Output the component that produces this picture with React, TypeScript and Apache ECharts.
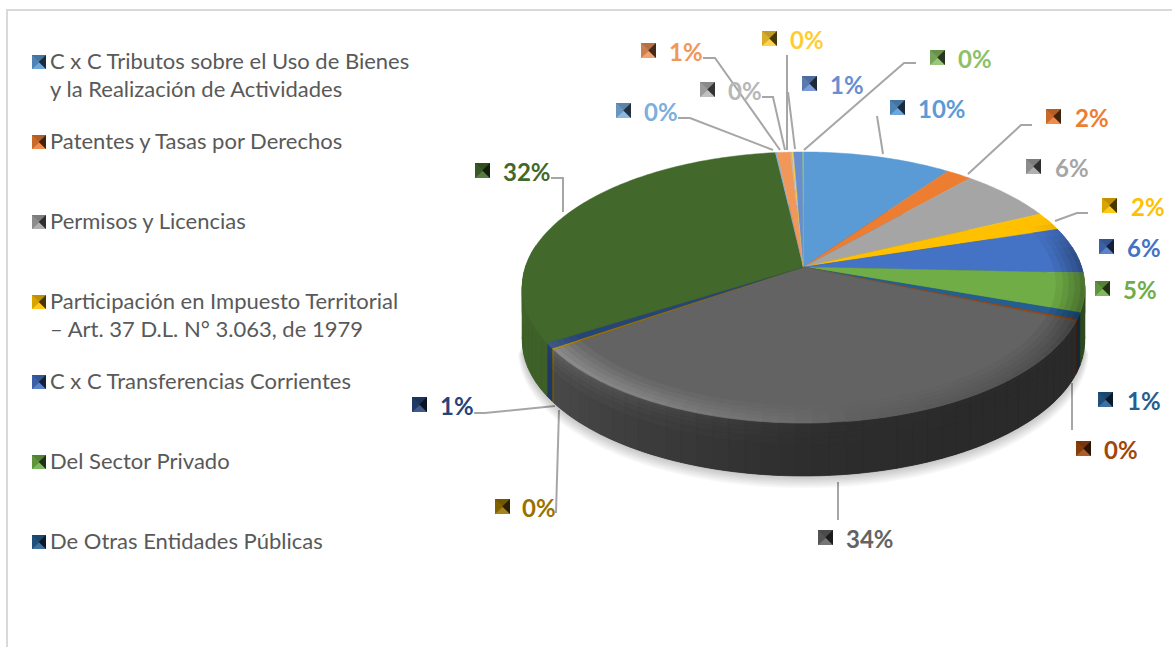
import React, { useEffect, useRef } from "react";
import * as echarts from "echarts";

const legendNames = [
  "C x C Tributos sobre el Uso de Bienes\ny la Realización de Actividades",
  "Patentes y Tasas por Derechos",
  "Permisos y Licencias",
  "Participación en Impuesto Territorial\n– Art. 37 D.L. N° 3.063, de 1979",
  "C x C Transferencias Corrientes",
  "Del Sector Privado",
  "De Otras Entidades Públicas",
];
const sliceValues = [9.9, 1.7, 6.4, 2.2, 5.5, 4.6, 0.8, 0.2, 34.0, 0.2, 0.6, 32.0, 0.1, 0.9, 0.1, 0.1, 0.6, 0.05];
const sliceColors = [
  "#5B9BD5", "#ED7D31", "#A5A5A5", "#FFC000", "#4472C4", "#70AD47", "#255E91", "#9E480E", "#636363",
  "#997300", "#264478", "#43682B", "#7CAFDD", "#F1975A", "#B7B7B7", "#FFCD33", "#698ED0", "#8CC168",
];
// swatch x, text x, label centre y
const labelSpots: number[][] = [
  [890, 918, 108], [1046, 1075, 117], [1026, 1055, 167], [1102, 1131, 206], [1099, 1127, 247], [1095, 1123, 289],
  [1098, 1127, 400], [1076, 1104, 449], [818, 846, 538], [495, 522, 507], [412, 440, 405], [475, 503, 171],
  [616, 644, 111], [641, 669, 51], [700, 728, 90], [762, 790, 39], [802, 830, 84], [930, 958, 58],
];
const leaders: number[][][] = [
  [[877, 116], [883, 154]],
  [[1032, 125], [1021, 125], [968, 174]],
  [[1088, 213], [1077, 213], [1055, 221]],
  [[1072, 383], [1072, 430]],
  [[838, 482], [838, 520]],
  [[556, 513], [559, 410]],
  [[474, 413], [485, 413], [555, 406]],
  [[551, 178], [563, 178], [563, 212]],
  [[678, 118], [690, 118], [773, 150]],
  [[703, 58], [715, 58], [780, 150]],
  [[762, 97], [773, 97], [785, 150]],
  [[787, 55], [787, 150]],
  [[788, 92], [795, 149]],
  [[916, 63], [904, 63], [804, 150]],
];
const legendRows = [62, 142, 222, 302, 382, 462, 542];

const FONT = "Lato, Carlito, 'Open Sans', sans-serif";
const X0 = 803.5, Y0 = 267, A = 132.4, B = 278, K = 0.151, DEPTH = 53;
const total = sliceValues.reduce((s, v) => s + v, 0);
const starts: number[] = [];
sliceValues.reduce((acc, v, i) => {
  starts[i] = (acc / total) * 360;
  return acc + v;
}, 0);

function pt(deg: number, r: number, z: number): number[] {
  const t = (deg * Math.PI) / 180;
  const u = Math.sin(t) * r, v = Math.cos(t) * r;
  const w = 1 + K * v;
  return [X0 + (B * u) / w, Y0 - (A * v) / w + z];
}
function rgb(c: string): number[] {
  return [1, 3, 5].map((i) => parseInt(c.slice(i, i + 2), 16));
}
function mix(c: string, target: number, a: number): string {
  const [r, g, b] = rgb(c).map((x) => Math.round(x + (target - x) * a));
  return `rgb(${r},${g},${b})`;
}
function scale(c: string, f: number): string {
  const [r, g, b] = rgb(c).map((x) => Math.min(255, Math.round(x * f)));
  return "#" + [r, g, b].map((x) => x.toString(16).padStart(2, "0")).join("");
}
function lookup(table: number[][], d: number): number {
  for (let i = 1; i < table.length; i++) {
    if (d <= table[i][0]) {
      const [a, av] = table[i - 1], [b, bv] = table[i];
      return av + ((bv - av) * (d - a)) / (b - a);
    }
  }
  return table[table.length - 1][1];
}
const rimTable = [[0, 0], [68, 0], [84, -0.3], [112, -0.35], [130, -0.2], [150, -0.12], [168, -0.05], [182, 0.06], [210, 0.2], [235, 0.26], [238.5, 0], [360, 0]];
const wallTable = [[0, 0.6], [85, 0.45], [113, 0.42], [150, 0.42], [180, 0.46], [200, 0.56], [235, 0.74], [239, 0.92], [280, 0.98], [360, 0.98]];
const tint = (c: string, a: number) => (a >= 0 ? mix(c, 255, a) : mix(c, 0, -a));

function segments(i: number): number[][] {
  const a0 = starts[i];
  const a1 = i + 1 < starts.length ? starts[i + 1] : 360;
  const n = Math.max(1, Math.ceil((a1 - a0) / 3));
  return Array.from({ length: n }, (_, k) => [a0 + ((a1 - a0) * k) / n, a0 + ((a1 - a0) * (k + 1)) / n]);
}
function arc(a0: number, a1: number, r: number, z: number): number[][] {
  const n = Math.max(1, Math.ceil((a1 - a0) / 1));
  return Array.from({ length: n + 1 }, (_, k) => pt(a0 + ((a1 - a0) * k) / n, r, z));
}
function poly(points: number[][], fill: string, lw = 0.5) {
  return { type: "polygon", shape: { points }, style: { fill, stroke: fill, lineWidth: lw } };
}

const wallLevels = [0, 3, 6, 10, 15, 22, DEPTH];
const rimLevels = [0.9, 0.925, 0.945, 0.965, 0.985, 1];
const shadowLayers = [1, 2, 3, 4, 5, 6, 7, 8];

function renderWall(params: any) {
  const i = params.dataIndex;
  const c = sliceColors[i];
  const children: any[] = [];
  if (i === 0) {
    for (const k of [...shadowLayers].reverse()) {
      children.push({
        type: "polygon",
        shape: { points: arc(100, 260, 1 + 0.0018 * k, DEPTH + k * 1.2) },
        style: { fill: "rgba(0,0,0,0.028)" },
      });
    }
    children.push({ type: "polygon", shape: { points: arc(0, 360, 1, DEPTH) }, style: { fill: "#333333" } });
  }
  for (const [a0, a1] of segments(i)) {
    const mid = (a0 + a1) / 2;
    if (Math.cos((mid * Math.PI) / 180) > 0.15) continue;
    const base = lookup(wallTable, mid);
    const lift = Math.max(0, lookup(rimTable, mid));
    for (let s = 0; s < wallLevels.length - 1; s++) {
      const z0 = wallLevels[s], z1 = wallLevels[s + 1];
      const f = base * (1 + (lift * 1.1 + 0.03) * (1 - s / (wallLevels.length - 2)));
      children.push(poly([...arc(a0, a1, 1, z0), ...arc(a0, a1, 1, z1).reverse()], scale(c, f), 0.7));
    }
  }
  return { type: "group", children };
}

function renderTop(params: any) {
  const i = params.dataIndex;
  const c = sliceColors[i];
  const children: any[] = [];
  const a0 = starts[i];
  const a1 = i + 1 < starts.length ? starts[i + 1] : 360;
  children.push(poly([[X0, Y0], ...arc(a0, a1, 1, 0)], c, 0.5));
  for (const [s0, s1] of segments(i)) {
    const amt = lookup(rimTable, (s0 + s1) / 2);
    if (Math.abs(amt) < 0.005) continue;
    for (let s = 0; s < rimLevels.length - 1; s++) {
      const p = (s + 1) / (rimLevels.length - 1);
      children.push(
        poly([...arc(s0, s1, rimLevels[s], 0), ...arc(s0, s1, rimLevels[s + 1], 0).reverse()], tint(c, amt * p), 0.5)
      );
    }
  }
  return { type: "group", children };
}

function swatch(x: number, y: number, size: number, color: string) {
  const s = size, cx = x + s * 0.55, cy = y + s * 0.5;
  return {
    type: "group",
    silent: true,
    children: [
      { type: "rect", shape: { x, y, width: s, height: s }, style: { fill: scale(color, 0.85) } },
      { type: "polygon", shape: { points: [[x, y], [x + s, y], [cx, cy]] }, style: { fill: scale(color, 0.75) } },
      { type: "polygon", shape: { points: [[x, y + s], [x + s, y + s], [cx, cy]] }, style: { fill: tint(color, 0.12) } },
      { type: "polygon", shape: { points: [[x + s, y], [x + s, y + s], [cx - 1, cy]] }, style: { fill: scale(color, 0.28) } },
    ],
  };
}

function buildGraphics() {
  const els: any[] = [
    { type: "polyline", silent: true, shape: { points: [[7, 660], [7, 10], [1180, 10]] }, style: { stroke: "#D9D9D9", lineWidth: 2, fill: "none" } },
  ];
  legendNames.forEach((name, i) => {
    els.push(swatch(32, legendRows[i] - 7, 14, sliceColors[i]));
    els.push({
      type: "text",
      silent: true,
      x: 50,
      y: legendRows[i] - 15.5,
      style: { text: name, fontFamily: FONT, fontSize: 22, lineHeight: 28, fill: "#595959", verticalAlign: "top", align: "left" },
    });
  });
  leaders.forEach((points) => {
    els.push({ type: "polyline", silent: true, shape: { points }, style: { stroke: "#A6A6A6", lineWidth: 2, fill: "none" } });
  });
  sliceValues.forEach((v, i) => {
    const [sx, tx, y] = labelSpots[i];
    els.push(swatch(sx, y - 8, 15, sliceColors[i]));
    els.push({
      type: "text",
      silent: true,
      x: tx,
      y,
      style: {
        text: `${Math.round(v)}%`,
        fontFamily: FONT,
        fontWeight: "bold",
        fontSize: 24,
        fill: sliceColors[i],
        verticalAlign: "middle",
        align: "left",
      },
    });
  });
  return els;
}

export default function App() {
  const ref = useRef<HTMLDivElement>(null);
  useEffect(() => {
    const chart = echarts.init(ref.current!, undefined, { renderer: "svg" });
    chart.setOption({
      animation: false,
      backgroundColor: "#ffffff",
      series: [
        { type: "custom", coordinateSystem: "none", silent: true, z: 1, clip: false, data: sliceValues, renderItem: renderWall },
        { type: "custom", coordinateSystem: "none", silent: true, z: 2, clip: false, data: sliceValues, renderItem: renderTop },
      ],
      graphic: { elements: buildGraphics() },
    });
    return () => chart.dispose();
  }, []);
  return <div ref={ref} style={{ position: "absolute", left: 0, top: 0, width: 1172, height: 647 }} />;
}
